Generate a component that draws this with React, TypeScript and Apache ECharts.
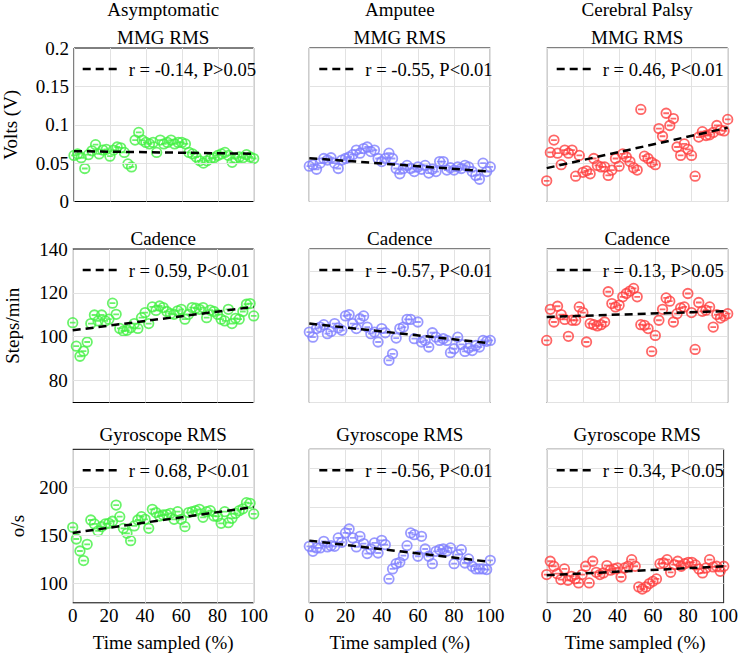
import { useEffect, useRef } from "react";
import * as echarts from "echarts";

const FONT = '"Liberation Serif", "Times New Roman", serif';

const groups = ["Asymptomatic", "Amputee", "Cerebral Palsy"];
const metrics = ["MMG RMS", "Cadence", "Gyroscope RMS"];
const yNames = ["Volts (V)", "Steps/min", "o/s"];
const groupColors = ["#44f044", "#8080ff", "#ff4040"];

// x positions of the samples (% of the walk)
const timePct = [
  0, 2, 4, 6, 8, 10, 12, 14, 16, 18, 20, 22, 24, 26, 28, 30, 32, 34, 36, 38, 40,
  42, 44, 46, 48, 50, 52, 54, 56, 58, 60, 62, 64, 66, 68, 70, 72, 74, 76, 78, 80,
  82, 84, 86, 88, 90, 92, 94, 96, 98, 100,
];
const timeTicks = [0, 20, 40, 60, 80, 100];
const trendX = [0, 100];

// MMG RMS (V)
const asymMmg = [
  0.06, 0.062, 0.057, 0.043, 0.061, 0.066, 0.074, 0.062, 0.067, 0.068, 0.059,
  0.067, 0.071, 0.07, 0.064, 0.049, 0.045, 0.08, 0.09, 0.08, 0.077, 0.075, 0.077,
  0.064, 0.08, 0.075, 0.077, 0.08, 0.075, 0.077, 0.077, 0.075, 0.064, 0.062,
  0.058, 0.053, 0.05, 0.053, 0.056, 0.057, 0.06, 0.062, 0.064, 0.06, 0.051,
  0.056, 0.058, 0.057, 0.061, 0.058, 0.056,
];
const ampMmg = [
  0.046, 0.048, 0.042, 0.05, 0.056, 0.054, 0.057, 0.05, 0.043, 0.054, 0.056,
  0.058, 0.061, 0.067, 0.063, 0.069, 0.071, 0.065, 0.067, 0.056, 0.052, 0.056,
  0.063, 0.056, 0.043, 0.036, 0.043, 0.047, 0.043, 0.039, 0.045, 0.042, 0.047,
  0.037, 0.042, 0.039, 0.052, 0.052, 0.041, 0.044, 0.041, 0.045, 0.043, 0.047,
  0.045, 0.039, 0.034, 0.029, 0.05, 0.039, 0.045,
];
const cpMmg = [
  0.027, 0.064, 0.08, 0.063, 0.048, 0.067, 0.063, 0.067, 0.033, 0.06, 0.038,
  0.04, 0.036, 0.056, 0.047, 0.045, 0.045, 0.034, 0.041, 0.056, 0.046, 0.062,
  0.058, 0.052, 0.044, 0.041, 0.12, 0.059, 0.056, 0.051, 0.048, 0.095, 0.085,
  0.115, 0.099, 0.108, 0.071, 0.06, 0.075, 0.068, 0.06, 0.033, 0.084, 0.091,
  0.086, 0.087, 0.09, 0.099, 0.093, 0.092, 0.107,
];

// Cadence (steps/min)
const asymCadence = [
  106.4, 95.7, 91.1, 93.4, 97.6, 106, 109.9, 107.2, 109.9, 107.2, 108, 115.3,
  110.2, 103.8, 102.6, 102.9, 104.1, 106, 103.8, 108.7, 111, 106, 113.6, 112, 114,
  113.3, 111.5, 110.5, 110.2, 111.8, 112.5, 108, 110.2, 113.3, 113, 112.5, 113.3,
  108.7, 112.1, 111.5, 110.2, 108, 107.2, 112.5, 106, 108.4, 108, 111.5, 114.8,
  115.1, 109.5,
];
const ampCadence = [
  102.1, 99.8, 103.7, 104.4, 105.5, 101.4, 102.4, 106, 104, 102.9, 109.5, 110.1,
  106, 103.7, 108.2, 109.5, 104.4, 101.4, 102.1, 97.6, 103.7, 101.8, 89.2, 92.2,
  99.4, 103.7, 104.4, 107.9, 107.9, 99.1, 106.7, 97.6, 98.3, 95.3, 101.8, 99.8,
  98.3, 99.1, 98.3, 92.7, 94.5, 99.8, 96.5, 93.3, 94.8, 93.7, 96, 95.3, 98.3,
  97.9, 98.3,
];
const cpCadence = [
  98.3, 112.5, 106.7, 113.9, 110.1, 107.9, 100.2, 107.5, 107.5, 113.6, 111, 97.6,
  106, 105.5, 104.9, 105.5, 106.7, 120.5, 115.1, 113.6, 114.4, 118.2, 119.7,
  120.8, 122, 118.2, 105.5, 105.2, 103.7, 93.3, 100.6, 107.5, 112.5, 117.7, 116.2,
  106.7, 110.5, 113.1, 113.6, 119.7, 111, 94.2, 115.6, 111.6, 112.1, 113.6, 104.4,
  110.1, 108.5, 109.5, 110.5,
];

// Gyroscope RMS (o/s)
const asymGyro = [
  158.7, 146.5, 134, 124, 141, 166.3, 162.2, 154.9, 159.4, 162.2, 162.8, 165,
  181.9, 169.8, 157.6, 152.4, 144.8, 160.1, 166.3, 169.8, 167, 157.6, 177.4, 174,
  170.5, 171.5, 172, 173.3, 167, 175, 167, 159.4, 174, 175, 176, 177.4, 169.1,
  175, 176, 170.5, 170, 162.8, 175, 163.5, 168.1, 173.3, 176, 178, 184.4, 183.7,
  172.6,
];
const ampGyro = [
  138.9, 133.7, 137.2, 137.2, 144.1, 138.2, 139.5, 138.9, 147.6, 143.1, 152.8,
  156.9, 147.6, 138.2, 149.3, 141.7, 131.3, 136.1, 142.4, 131.9, 145.1, 140.6,
  104.9, 115.3, 120.8, 122.2, 129.2, 139.6, 152.8, 151, 128.5, 149.3, 136.1,
  128.5, 120.8, 133.7, 135.4, 136.1, 134, 137.2, 120.8, 130.2, 135.4, 121.5,
  125.7, 118.1, 115.3, 115.3, 115.3, 114.6, 124.3,
];
const cpGyro = [
  109.4, 123.3, 118.1, 110.4, 104.2, 115.3, 103.5, 107.6, 105, 100.7, 109.4,
  118.1, 100.7, 123.3, 111.8, 109.4, 111.1, 118.8, 114, 115.3, 116.3, 106.9,
  116.3, 118.1, 125, 118.1, 96.5, 94.4, 96.5, 100, 102.4, 104.9, 120.8, 121.5,
  125, 111.8, 119.8, 123.3, 118.1, 120.8, 122.2, 122.2, 119.5, 115.3, 111.1,
  116.3, 125, 117.4, 118.1, 112.8, 118.1,
];

// fitted trend line, value at 0 % and at 100 %
const asymMmgTrend = [0.0656, 0.0622];
const ampMmgTrend = [0.0565, 0.039];
const cpMmgTrend = [0.0435, 0.096];
const asymCadenceTrend = [102.9, 113.6];
const ampCadenceTrend = [106, 97];
const cpCadenceTrend = [109, 111.7];
const asymGyroTrend = [152.8, 179.9];
const ampGyroTrend = [144.8, 122.6];
const cpGyroTrend = [108.7, 118];

const corrLabels = [
  "r = -0.14, P>0.05",
  "r = -0.55, P<0.01",
  "r = 0.46, P<0.01",
  "r = 0.59, P<0.01",
  "r = -0.57, P<0.01",
  "r = 0.13, P>0.05",
  "r = 0.68, P<0.01",
  "r = -0.56, P<0.01",
  "r = 0.34, P<0.05",
];

// y tick labels of the left column
const mmgTicks = [0, 0.05, 0.1, 0.15, 0.2];
const cadenceTicks = [80, 100, 120, 140];
const gyroTicks = [100, 150, 200];

const panelValues = [
  [asymMmg, ampMmg, cpMmg],
  [asymCadence, ampCadence, cpCadence],
  [asymGyro, ampGyro, cpGyro],
];
const panelTrends = [
  [asymMmgTrend, ampMmgTrend, cpMmgTrend],
  [asymCadenceTrend, ampCadenceTrend, cpCadenceTrend],
  [asymGyroTrend, ampGyroTrend, cpGyroTrend],
];
const rowTicks = [mmgTicks, cadenceTicks, gyroTicks];

// layout
const colLeft = [72.7, 309.3, 546.7];
const rowTop = [48, 249, 449.3];
const plotW = 181;
const plotH = 153.5;
const titleY = [37, 238.5, 434.5];
const yNameGap = [54, 51, 46];
// axis range / step for each row: left column, other columns
const rowRange = [
  { min: 0, max: 0.2, step: 0.05, leftStep: 0.05 },
  { min: 70, max: 140, step: 10, leftStep: 10 },
  { min: 80, max: 240, step: 20, leftStep: 10 },
];

const MARKER =
  "path://M0,10 A10,10 0 1 1 20,10 A10,10 0 1 1 0,10 Z M4,10 L16,10";

export default function App() {
  const chartRef = useRef<HTMLDivElement>(null);

  useEffect(() => {
    if (!chartRef.current) return;
    const chart = echarts.init(chartRef.current, undefined, { renderer: "svg" });

    const grids: any[] = [];
    const xAxes: any[] = [];
    const yAxes: any[] = [];
    const series: any[] = [];
    const graphics: any[] = [];

    const near = (a: number, b: number) => Math.abs(a - b) < 1e-6;
    const textStyle = (size: number, align: string) => ({
      font: `${size}px ${FONT}`,
      fill: "#000",
      align,
      verticalAlign: "middle",
      textAlign: align,
      textVerticalAlign: "middle",
    });

    for (let r = 0; r < 3; r++) {
      for (let c = 0; c < 3; c++) {
        const idx = r * 3 + c;
        const rng = rowRange[r];
        const left = colLeft[c];
        const top = rowTop[r];

        grids.push({
          left,
          top,
          width: plotW,
          height: plotH,
          show: true,
          borderColor: "#000",
          borderWidth: 1,
          backgroundColor: "transparent",
        });

        xAxes.push({
          type: "value",
          gridIndex: idx,
          min: 0,
          max: 100,
          interval: 20,
          axisLine: { show: false },
          axisTick: { show: false },
          axisLabel: {
            show: r === 2,
            margin: 3,
            color: "#000",
            fontFamily: FONT,
            fontSize: 19,
            formatter: (v: number) =>
              timeTicks.some((t) => near(t, v)) ? String(v) : "",
          },
          splitLine: { show: true, lineStyle: { color: "#e2e2e2", width: 1 } },
          name: r === 2 ? "Time sampled (%)" : "",
          nameLocation: "middle",
          nameGap: 30,
          nameTextStyle: { color: "#000", fontFamily: FONT, fontSize: 19 },
        });

        const isLeft = c === 0;
        const ticks = rowTicks[r];
        yAxes.push({
          type: "value",
          gridIndex: idx,
          min: rng.min,
          max: rng.max,
          interval: isLeft ? rng.leftStep : rng.step,
          axisLine: { show: false },
          axisTick: { show: false },
          axisLabel: {
            show: isLeft,
            margin: 5,
            color: "#000",
            fontFamily: FONT,
            fontSize: 19,
            formatter: (v: number) =>
              ticks.some((t) => near(t, v)) ? String(v) : "",
          },
          splitLine: {
            show: !isLeft,
            lineStyle: { color: "#e2e2e2", width: 1 },
          },
          name: isLeft ? yNames[r] : "",
          nameLocation: "middle",
          nameRotate: 90,
          nameGap: yNameGap[r],
          nameTextStyle: { color: "#000", fontFamily: FONT, fontSize: 19 },
        });

        // horizontal grid of the left column follows its labelled ticks
        if (isLeft) {
          series.push({
            type: "line",
            xAxisIndex: idx,
            yAxisIndex: idx,
            data: [],
            z: 1,
            silent: true,
            markLine: {
              silent: true,
              symbol: "none",
              label: { show: false },
              lineStyle: { color: "#e2e2e2", width: 1, type: "solid" },
              data: ticks
                .filter((t) => t > rng.min && t < rng.max)
                .map((t) => ({ yAxis: t })),
            },
          });
        }

        const values = panelValues[r][c];
        series.push({
          type: "scatter",
          name: groups[c] + " " + metrics[r],
          xAxisIndex: idx,
          yAxisIndex: idx,
          symbol: MARKER,
          symbolSize: 9.5,
          clip: false,
          z: 2,
          itemStyle: {
            color: "rgba(0,0,0,0)",
            borderColor: groupColors[c],
            borderWidth: 1.8,
          },
          data: timePct.map((t, i) => [t, values[i]]),
        });

        const trend = panelTrends[r][c];
        series.push({
          type: "line",
          name: corrLabels[idx],
          xAxisIndex: idx,
          yAxisIndex: idx,
          symbol: "none",
          z: 3,
          lineStyle: { color: "#000", width: 2.5, type: [8, 5] },
          data: trendX.map((t, i) => [t, trend[i]]),
        });

        // legend entry
        const ly = top + 21;
        graphics.push({
          type: "line",
          shape: { x1: left + 10, y1: ly, x2: left + 46, y2: ly },
          style: { stroke: "#000", lineWidth: 2.5, lineDash: [8, 5] },
          z: 10,
        });
        graphics.push({
          type: "text",
          x: left + 56,
          y: ly,
          z: 10,
          style: { text: corrLabels[idx], ...textStyle(18.6, "left") },
        });

        // panel title
        graphics.push({
          type: "text",
          x: left + plotW / 2,
          y: titleY[r],
          style: { text: metrics[r], ...textStyle(19, "center") },
        });
      }
    }

    // column headers
    groups.forEach((g, c) => {
      graphics.push({
        type: "text",
        x: colLeft[c] + plotW / 2,
        y: 9,
        style: { text: g, ...textStyle(19, "center") },
      });
    });

    chart.setOption({
      animation: false,
      backgroundColor: "#fff",
      grid: grids,
      xAxis: xAxes,
      yAxis: yAxes,
      series,
      graphic: graphics,
    });

    return () => {
      chart.dispose();
    };
  }, []);

  return (
    <div
      ref={chartRef}
      style={{
        position: "fixed",
        left: 0,
        top: 0,
        width: "741px",
        height: "653px",
        background: "#fff",
      }}
    />
  );
}
